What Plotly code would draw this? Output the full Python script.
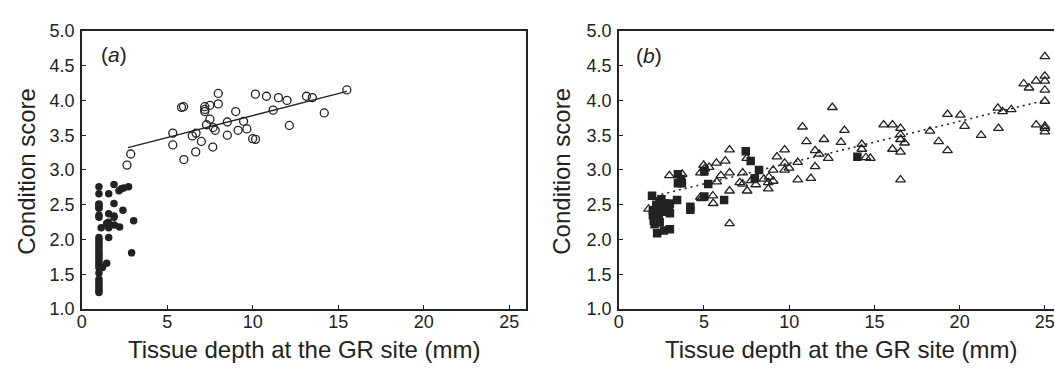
import plotly.graph_objects as go

W, H = 1055, 375

# ---- Panel (a) data ----
a_filled_x = [1.0]*8 + [1.0]*19 + [1.13, 1.45, 1.2, 1.57, 1.88, 1.88, 1.57, 1.88, 1.88,
              1.45, 1.55, 1.5, 1.57, 1.9, 2.21, 1.57, 2.17, 2.31, 2.44, 2.73, 2.4, 3.03, 2.91]
a_filled_y = [2.76, 2.66, 2.51, 2.46, 2.35, 2.32, 2.45, 2.50] + \
             [2.03, 1.99, 1.95, 1.91, 1.87, 1.83, 1.79, 1.75, 1.71, 1.67, 1.63, 1.60, 1.52,
              1.43, 1.39, 1.35, 1.31, 1.27, 1.24] + \
             [2.17, 1.66, 1.60, 2.66, 2.79, 2.52, 2.37, 2.34, 2.32,
              2.23, 2.25, 2.20, 2.17, 2.21, 2.18, 2.03, 2.70, 2.73, 2.74, 2.76, 2.42, 2.27, 1.81]

a_open_x = [2.64, 2.86, 5.32, 5.32, 5.97, 6.46, 6.68, 6.66, 6.99, 7.29, 7.49, 7.66, 7.68, 7.80,
            8.51, 8.51, 9.00, 9.14, 9.46, 9.65, 9.99, 10.16, 11.19, 12.14, 14.18,
            5.83, 5.95, 7.19, 7.19, 7.19, 7.49, 7.98, 7.98, 10.15, 10.80, 11.50, 12.00,
            13.14, 13.48, 15.50]
a_open_y = [3.07, 3.23, 3.53, 3.36, 3.15, 3.49, 3.53, 3.26, 3.41, 3.65, 3.73, 3.33, 3.61, 3.57,
            3.69, 3.50, 3.84, 3.57, 3.70, 3.59, 3.45, 3.44, 3.86, 3.64, 3.82,
            3.90, 3.91, 3.91, 3.87, 3.84, 3.93, 4.10, 3.95, 4.09, 4.06, 4.04, 4.00,
            4.06, 4.04, 4.15]

a_fit_x = [2.70, 15.50]
a_fit_y = [3.32, 4.13]

# ---- Panel (b) data ----
b_tri_x = [1.75, 2.97, 3.72, 4.79, 4.98, 5.04, 5.30, 4.79, 4.85, 5.73, 6.25, 6.50, 6.50, 5.99,
           5.75, 5.52, 5.54, 6.50, 6.50, 7.27, 7.10, 7.27, 7.51, 7.53, 7.78, 8.04, 8.51, 8.77,
           8.81, 8.77, 9.06, 9.06, 9.28, 9.73, 9.73, 9.73, 9.99, 10.50, 10.50, 10.78, 11.01,
           11.27, 11.52, 11.52, 11.76, 12.04, 12.29, 12.53, 13.04, 13.24, 14.26, 14.26, 14.50,
           14.76, 15.54, 16.06, 16.06, 16.53, 16.53, 16.53, 16.77, 16.53, 16.53, 18.26, 18.77,
           19.29, 19.29, 20.04, 20.29, 21.26, 22.24, 22.52, 22.28, 23.03, 23.76, 24.07, 24.49,
           25.0, 25.0, 25.0, 25.0, 25.0, 24.49, 25.0, 25.0, 25.0]
b_tri_y = [2.44, 2.92, 2.94, 2.96, 3.07, 3.02, 3.04, 2.61, 2.59, 3.10, 3.13, 3.29, 2.96, 2.92,
           2.83, 2.63, 2.52, 2.70, 2.23, 2.96, 2.82, 2.80, 3.17, 2.70, 2.85, 2.79, 2.87, 2.82,
           2.90, 2.73, 3.00, 2.84, 3.19, 3.29, 3.10, 3.00, 3.03, 3.11, 2.86, 3.62, 3.41,
           2.88, 3.05, 3.28, 3.23, 3.44, 3.17, 3.90, 3.40, 3.57, 3.37, 3.30, 3.18,
           3.17, 3.65, 3.65, 3.30, 3.60, 3.51, 3.44, 3.39, 3.26, 2.86, 3.56, 3.41,
           3.80, 3.28, 3.79, 3.63, 3.50, 3.89, 3.84, 3.60, 3.87, 4.24, 4.18, 4.28,
           4.63, 4.35, 4.28, 4.15, 3.99, 3.65, 3.63, 3.60, 3.55]

b_sq_x = [1.95, 2.00, 2.00, 2.05, 2.10, 2.15, 2.20, 2.25, 2.30, 2.35, 2.40, 2.50, 2.55, 2.60,
          2.65, 2.70, 2.75, 2.85, 2.95, 3.00, 3.00, 3.00, 2.40, 2.20,
          3.47, 3.66, 3.47, 3.70, 3.42, 4.20, 4.20, 5.25, 5.02, 5.02, 6.18, 7.45, 7.74, 7.98,
          8.23, 14.00]
b_sq_y = [2.63, 2.42, 2.35, 2.27, 2.22, 2.40, 2.30, 2.09, 2.45, 2.35, 2.25, 2.58, 2.50, 2.40,
          2.13, 2.52, 2.45, 2.47, 2.42, 2.15, 2.38, 2.52, 2.55, 2.50,
          2.94, 2.87, 2.81, 2.81, 2.57, 2.47, 2.43, 2.80, 2.98, 2.62, 2.57, 3.27, 3.13, 2.88,
          3.00, 3.19]

b_fit_x = [2.50, 25.00]
b_fit_y = [2.65, 4.00]

x_ticks = [0, 5, 10, 15, 20, 25]
y_ticks = [1.0, 1.5, 2.0, 2.5, 3.0, 3.5, 4.0, 4.5, 5.0]
x_title = "Tissue depth at the GR site (mm)"
y_title = "Condition score"

INK = "#222222"
FONT = "Liberation Sans, Arial, sans-serif"

fig = go.Figure()
fig.add_trace(go.Scatter(x=a_filled_x, y=a_filled_y, mode="markers", xaxis="x", yaxis="y",
                         marker=dict(symbol="circle", size=7.5, color=INK, line=dict(width=0))))
fig.add_trace(go.Scatter(x=a_open_x, y=a_open_y, mode="markers", xaxis="x", yaxis="y",
                         marker=dict(symbol="circle-open", size=8, color=INK, line=dict(width=1.3))))
fig.add_trace(go.Scatter(x=a_fit_x, y=a_fit_y, mode="lines", xaxis="x", yaxis="y",
                         line=dict(color=INK, width=1.3)))

fig.add_trace(go.Scatter(x=b_tri_x, y=b_tri_y, mode="markers", xaxis="x2", yaxis="y2",
                         marker=dict(symbol="triangle-up-open", size=8.5, color=INK, line=dict(width=1.3))))
fig.add_trace(go.Scatter(x=b_sq_x, y=b_sq_y, mode="markers", xaxis="x2", yaxis="y2",
                         marker=dict(symbol="square", size=8.5, color=INK, line=dict(width=0))))
fig.add_trace(go.Scatter(x=b_fit_x, y=b_fit_y, mode="lines", xaxis="x2", yaxis="y2",
                         line=dict(color=INK, width=1.6, dash="2px,4px")))

ydom = [1 - 316 / H, 1 - 22 / H]
common_x = dict(tickmode="array", tickvals=x_ticks, ticktext=[str(t) for t in x_ticks],
                ticks="inside", ticklen=4, tickwidth=1.2, tickcolor=INK,
                showline=True, linecolor=INK, linewidth=1.5, showgrid=False, zeroline=False,
                tickfont=dict(size=18, color=INK, family=FONT), ticklabelstandoff=-4,
                ticklabeloverflow="allow")
common_y = dict(tickmode="array", tickvals=y_ticks, ticktext=[f"{t:.1f}" for t in y_ticks],
                ticks="inside", ticklen=4, tickwidth=1.2, tickcolor=INK,
                showline=True, linecolor=INK, linewidth=1.5, showgrid=False, zeroline=False,
                tickfont=dict(size=18, color=INK, family=FONT), ticklabelstandoff=2, range=[1.0, 5.0])

fig.update_layout(
    width=W, height=H, margin=dict(l=0, r=0, t=0, b=0),
    paper_bgcolor="white", plot_bgcolor="white", showlegend=False,
    font=dict(family=FONT, color=INK),
    xaxis=dict(common_x, domain=[77.3 / W, 524.3 / W], range=[0, 26], mirror=True, anchor="y"),
    yaxis=dict(common_y, domain=ydom, mirror=True, anchor="x"),
    xaxis2=dict(common_x, domain=[617.3 / W, 1.0], range=[0, (W - 617.3) / 17.14], mirror=True, anchor="y2"),
    yaxis2=dict(common_y, domain=ydom, mirror=False, anchor="x2"),
)

ann = [
    dict(text="(<i>a</i>)", x=109.5 / W, y=1 - 47 / H, size=21, angle=0),
    dict(text="(<i>b</i>)", x=648 / W, y=1 - 48 / H, size=21, angle=0),
    dict(text=y_title, x=22 / W, y=1 - 170 / H, size=24, angle=-90),
    dict(text=y_title, x=560 / W, y=1 - 170 / H, size=24, angle=-90),
    dict(text=x_title, x=301 / W, y=1 - 359 / H, size=24, angle=0),
    dict(text=x_title, x=841 / W, y=1 - 359 / H, size=24, angle=0),
]
for a in ann:
    fig.add_annotation(text=a["text"], x=a["x"], y=a["y"], xref="paper", yref="paper",
                       showarrow=False, textangle=a["angle"], xanchor="center", yanchor="middle",
                       font=dict(size=a["size"], color=INK, family=FONT))

fig.write_html("out.html", config={"displayModeBar": False},
               post_script="document.body.style.margin='0';document.body.style.overflow='hidden';")
